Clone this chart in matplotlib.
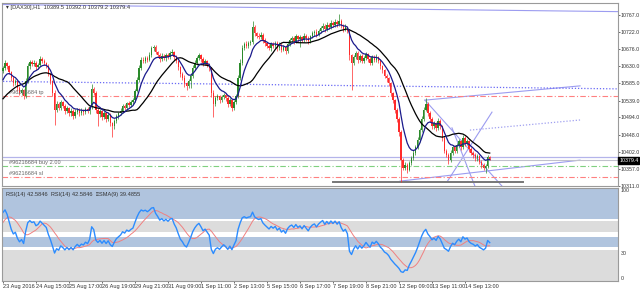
import matplotlib
matplotlib.use("Agg")
import matplotlib.pyplot as plt
import numpy as np
import pandas as pd

# ── data (DAX30 H1) ──────────────────────────────────────────────────────────
# bars before the visible window, only used to warm up the indicators
pre_close = [10575, 10568, 10560, 10552, 10545, 10550, 10540, 10532, 10525, 10518,
             10510, 10502, 10508, 10498, 10495, 10505, 10500, 10512, 10520, 10515,
             10528, 10535, 10548, 10555, 10568, 10575, 10590, 10598, 10610, 10618]

closes = [
    10625, 10638, 10630, 10615, 10598, 10585, 10590, 10572, 10560, 10566,
    10552, 10590, 10630, 10642, 10636, 10640, 10628, 10634, 10650, 10644,
    10638, 10632, 10610, 10590, 10560, 10515, 10530, 10520, 10535, 10525,
    10510, 10518, 10505, 10512, 10498, 10508, 10515, 10505, 10512, 10508,
    10516, 10510, 10522, 10570, 10560, 10515, 10502, 10510, 10495, 10505,
    10490, 10500, 10480, 10470, 10485, 10498, 10505, 10512, 10525, 10520,
    10532, 10528, 10535, 10540, 10565, 10595, 10625, 10648, 10645, 10652,
    10648, 10660, 10678, 10682, 10668, 10660, 10650, 10658, 10652, 10660,
    10655, 10665, 10668, 10655, 10645, 10628, 10610, 10600, 10585, 10578,
    10590, 10605, 10625, 10640, 10652, 10660, 10650, 10638, 10644, 10635,
    10625, 10560, 10530, 10545, 10550, 10540, 10548, 10555, 10545, 10530,
    10540, 10520, 10535, 10550, 10600, 10640, 10680, 10690, 10685, 10692,
    10695, 10735, 10718, 10712, 10708, 10715, 10700, 10692, 10685, 10678,
    10690, 10684, 10692, 10680, 10688, 10675, 10682, 10672, 10690, 10700,
    10705, 10698, 10710, 10702, 10708, 10700, 10712, 10705, 10698, 10710,
    10718, 10722, 10715, 10725, 10732, 10738, 10730, 10740, 10735, 10745,
    10740, 10748, 10742, 10750, 10738, 10730, 10735, 10725, 10660, 10640,
    10655, 10665, 10648, 10658, 10645, 10652, 10662, 10650, 10640, 10655,
    10648, 10655, 10645, 10630, 10620, 10605, 10598, 10585, 10560, 10540,
    10515, 10490, 10455, 10380, 10360, 10368, 10355, 10372, 10385, 10400,
    10415, 10435, 10460, 10490, 10515, 10530, 10505, 10490, 10470, 10478,
    10465, 10485, 10470, 10440, 10405, 10395, 10380, 10400, 10415, 10405,
    10420, 10430, 10415, 10438, 10425, 10430, 10410, 10400, 10395, 10385,
    10390, 10375, 10368, 10360, 10365, 10389.5, 10379.4]

# wick lengths above / below the body, points
up_wick = [
    6, 8, 4, 5, 3, 6, 7, 4, 5, 6,  4, 8, 10, 6, 5, 7, 4, 6, 8, 5,
    6, 4, 5, 3, 4, 6, 8, 5, 6, 4,  5, 7, 4, 6, 5, 8, 4, 5, 6, 4,
    5, 6, 4, 12, 6, 5, 4, 7, 5, 6,  4, 5, 6, 3, 5, 6, 4, 7, 5, 6,
    4, 6, 5, 7, 6, 8, 10, 6, 7, 5,  6, 8, 7, 5, 6, 4, 5, 7, 6, 5,
    6, 7, 9, 4, 5, 3, 4, 5, 6, 4,  6, 7, 8, 6, 5, 7, 4, 6, 5, 4,
    5, 4, 6, 5, 7, 4, 6, 5, 4, 6,  5, 4, 6, 7, 8, 10, 6, 5, 7, 6,
    5, 15, 6, 5, 7, 6, 4, 5, 4, 6,  5, 6, 7, 5, 6, 4, 5, 4, 6, 7,
    5, 6, 7, 5, 6, 4, 7, 5, 6, 4,  6, 5, 7, 6, 5, 7, 6, 8, 5, 9,
    6, 8, 5, 20, 6, 5, 7, 4, 5, 4,  6, 7, 5, 6, 4, 7, 6, 5, 4, 6,
    5, 7, 4, 5, 4, 3, 4, 5, 4, 3,  4, 3, 5, 6, 5, 7, 4, 6, 5, 6,
    5, 7, 6, 8, 7, 15, 6, 5, 4, 7,  5, 8, 5, 4, 5, 6, 4, 7, 6, 5,
    7, 6, 5, 9, 6, 7, 4, 5, 4, 5,  6, 4, 5, 4, 6, 5, 2.5]
dn_wick = [
    5, 4, 6, 5, 7, 6, 4, 8, 6, 5,  9, 5, 4, 6, 5, 4, 7, 5, 4, 6,
    5, 6, 5, 7, 8, 40, 6, 7, 5, 6,  8, 5, 7, 6, 9, 5, 6, 8, 5, 7,
    6, 5, 7, 6, 5, 8, 30, 6, 8, 5,  7, 6, 8, 28, 6, 5, 7, 4, 6, 5,
    7, 5, 6, 4, 5, 4, 6, 5, 7, 6,  5, 4, 6, 7, 5, 6, 8, 5, 6, 7,
    5, 6, 4, 7, 6, 8, 7, 6, 9, 10,  6, 18, 5, 4, 6, 5, 7, 6, 5, 7,
    6, 12, 35, 6, 5, 8, 6, 5, 7, 9,  6, 10, 5, 6, 4, 5, 6, 7, 5, 6,
    5, 4, 6, 7, 5, 6, 8, 7, 6, 5,  7, 6, 5, 8, 6, 7, 5, 8, 6, 5,
    6, 7, 5, 6, 20, 6, 5, 7, 8, 6,  5, 6, 7, 5, 6, 5, 7, 5, 6, 5,
    6, 5, 7, 5, 6, 7, 5, 6, 12, 73,  6, 5, 8, 6, 7, 5, 6, 8, 7, 5,
    6, 5, 7, 6, 8, 7, 9, 6, 10, 8,  9, 8, 10, 58, 7, 6, 8, 5, 6, 5,
    6, 5, 6, 5, 6, 5, 7, 8, 6, 7,  6, 5, 7, 8, 6, 7, 9, 5, 6, 7,
    5, 6, 7, 5, 6, 5, 7, 6, 8, 6,  7, 6, 8, 7, 15, 6, 0.2]

date_labels = ["23 Aug 2016", "24 Aug 15:00", "25 Aug 17:00", "26 Aug 19:00",
               "29 Aug 21:00", "31 Aug 09:00", "1 Sep 11:00", "2 Sep 13:00",
               "5 Sep 15:00", "6 Sep 17:00", "7 Sep 19:00", "8 Sep 21:00",
               "12 Sep 09:00", "13 Sep 11:00", "14 Sep 13:00"]
price_ticks = [10767.0, 10722.0, 10676.0, 10630.0, 10585.0, 10539.0,
               10494.0, 10448.0, 10402.0, 10357.0, 10311.0]

# chart objects: (bar0, price0, bar1, price1)
trend_top = (-1.5, 10795, 298.2, 10776)
trend_dotted = (-1.5, 10590, 298.2, 10570)
channel_up = (204.6, 10540, 279.8, 10578)
channel_dn = (192.5, 10324, 279.8, 10380)
fan_lines = [(204.6, 10540, 241.9, 10311),
             (215.3, 10322, 237.1, 10508),
             (217.7, 10466, 228.8, 10311)]
dotted_up = (226.4, 10460, 279.8, 10487)
support = (160.0, 10322, 252.1, 10322)
tp_level, buy_level, sl_level = 10551, 10364, 10335
order_line = 10388

# ── indicators ───────────────────────────────────────────────────────────────
n_pre = len(pre_close)
s = pd.Series(pre_close + closes, dtype=float)
ma_fast = s.ewm(span=8, adjust=False).mean().values[n_pre:]
ma_slow = s.rolling(21).mean().values[n_pre:]
d = s.diff()
avg_gain = d.clip(lower=0).ewm(alpha=1/14, adjust=False).mean()
avg_loss = (-d.clip(upper=0)).ewm(alpha=1/14, adjust=False).mean()
rsi = 100 - 100 / (1 + avg_gain / avg_loss)
rsi_ma = rsi.rolling(9).mean()
rsi = rsi.values[n_pre:]
rsi_ma = rsi_ma.values[n_pre:]

c = np.array(closes, dtype=float)
o = np.concatenate([[pre_close[-1]], c[:-1]])
hi = np.maximum(o, c) + np.array(up_wick)
lo = np.minimum(o, c) - np.array(dn_wick)
idx = np.arange(len(c))
bull = c >= o

# ── figure ───────────────────────────────────────────────────────────────────
plt.rcParams['font.family'] = ['Liberation Sans Narrow', 'Liberation Sans', 'DejaVu Sans']
fig = plt.figure(figsize=(6.4, 2.92), dpi=100)
ax = fig.add_axes([2/640, 1 - 186/292, 616/640, 183/292])
ar = fig.add_axes([2/640, 1 - 281/292, 616/640, 93/292], sharex=ax)
FS = 4.1
FY = 3.8
XL = (-0.48, 298.2)
tc = '#333333'

# candles
col = np.where(bull, '#2b8a2b', '#ff2b2b')
ax.vlines(idx, lo, hi, colors=col, lw=0.5, zorder=3)
body = np.maximum(np.abs(c - o), 0.8)
ax.bar(idx, body, bottom=np.minimum(o, c), width=0.7, color=col, lw=0, zorder=3)

ax.plot(idx, ma_slow, color='black', lw=0.9, zorder=4)
ax.plot(idx, ma_fast, color='#1a1a8c', lw=0.9, zorder=4)

# drawn objects
lc = '#9c9cf0'
for x0, y0, x1, y1 in [trend_top, channel_up, channel_dn] + fan_lines:
    ax.plot([x0, x1], [y0, y1], color=lc, lw=0.8, zorder=2)
for (x0, y0, x1, y1), cc in [(trend_dotted, '#6a6af5'), (dotted_up, '#a0a0f0')]:
    ax.plot([x0, x1], [y0, y1], color=cc, lw=0.9, ls=(0, (1, 1.5)), zorder=2)
x0, y0, x1, y1 = support
ax.plot([x0, x1], [y0, y1], color='#777777', lw=1.4, zorder=2)

dd = (0, (5, 2, 1, 2))
ax.axhline(tp_level, color='#ff8080', lw=0.8, ls=dd, zorder=2)
ax.axhline(buy_level, color='#7fd07f', lw=0.8, ls=dd, zorder=2)
ax.axhline(sl_level, color='#ff8080', lw=0.8, ls=dd, zorder=2)
ax.axhline(order_line, color='#b4b4ea', lw=0.9, zorder=2)
ax.axhline(c[-1], color='#c0c0cc', lw=0.8, zorder=2)

oc = '#666666'
ax.text(3, tp_level + 2, '#96216684 tp', fontsize=FS, color=oc, va='bottom')
ax.text(3, buy_level + 2, '#96216684 buy 2.00', fontsize=FS, color=oc, va='bottom')
ax.text(3, sl_level + 2, '#96216684 sl', fontsize=FS, color=oc, va='bottom')
ax.text(0.006, 0.99, '\u25be [DAX30],H1  10389.5 10392.0 10379.2 10379.4',
        transform=ax.transAxes, fontsize=FS, color=tc, va='top')

ax.set_xlim(*XL)
ax.set_ylim(10311, 10799)
ax.yaxis.tick_right()
ax.set_yticks(price_ticks)
ax.set_yticklabels([f'{v:.1f}' for v in price_ticks])
ax.tick_params(axis='y', labelsize=FY, length=1.2, width=0.5, pad=0.4, colors=tc)
ax.tick_params(axis='x', bottom=False, labelbottom=False)
ax.annotate(f'{c[-1]:.1f}', xy=(1.0, c[-1]), xycoords=('axes fraction', 'data'),
            xytext=(0.8, 0), textcoords='offset points', fontsize=FY, color='white',
            va='center', ha='left',
            bbox=dict(boxstyle='square,pad=0.15', fc='black', ec='black'))

# RSI pane
ar.axhspan(66.5, 100, color='#b0c4de', lw=0)
ar.axhspan(52.5, 64.5, color='#dcdcdc', lw=0)
ar.axhspan(36.5, 47.5, color='#b0c4de', lw=0)
ar.axhspan(0, 33.5, color='#dcdcdc', lw=0)
for lvl in [65.5, 51.5, 35.5]:
    ar.axhline(lvl, color='white', lw=0.8, ls=(0, (1.5, 1.5)))
ar.plot(idx, rsi_ma, color='#f08080', lw=0.7)
ar.plot(idx, rsi, color='#2c8cff', lw=1.0)
ar.text(0.006, 0.96, 'RSI(14) 42.5846  RSI(14) 42.5846  \u2261SMA(9) 39.4855',
        transform=ar.transAxes, fontsize=FS, color=tc, va='top')
ar.set_ylim(0, 100)
ar.yaxis.tick_right()
ar.set_yticks([100, 30, 0])
ar.set_yticklabels(['100', '30', '0'])
ar.tick_params(axis='y', labelsize=FY, length=0, pad=2, colors=tc)
lbl = ar.get_yticklabels()
lbl[0].set_va('top')
lbl[2].set_va('bottom')
ar.set_xticks(np.arange(len(date_labels)) * 16)
ar.set_xticklabels(date_labels)
ar.tick_params(axis='x', labelsize=FS, length=1.5, width=0.5, pad=1, colors=tc)
for t in ar.get_xticklabels():
    t.set_ha('left')
ar.set_xlim(*XL)

for a in (ax, ar):
    for sp in a.spines.values():
        sp.set_color('#9a9a9a')
        sp.set_linewidth(0.8)

fig.savefig('out.png', dpi=100)
